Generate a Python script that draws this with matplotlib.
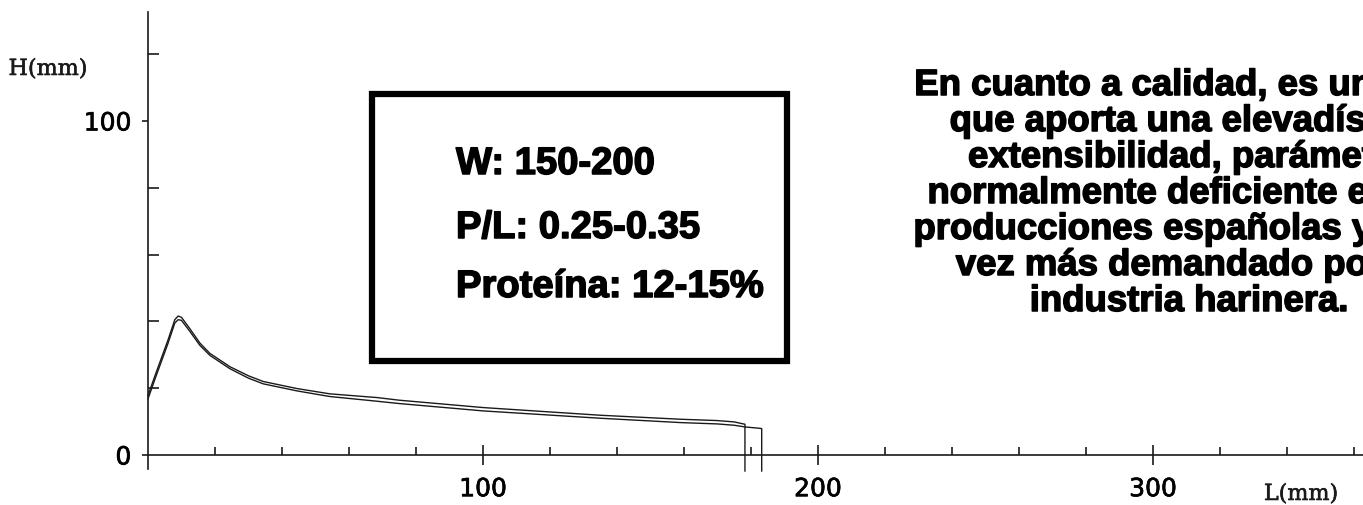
import matplotlib
matplotlib.use("Agg")
import matplotlib.pyplot as plt
import matplotlib.patheffects as pe
from matplotlib.patches import Rectangle
from matplotlib.ticker import FixedLocator

# two alveograph curves, L (mm) vs H (mm)
upper_x = [0, 2, 4, 6, 8, 9, 10, 12.5, 15.5, 18.5, 24.5, 30, 34.4, 44.4, 54.3,
           68.3, 75, 100, 135, 159, 170, 175, 178.2, 178.2]
upper_y = [17.8, 23.5, 29, 34.5, 40.5, 41.6, 41.2, 37.8, 33.5, 30.4, 26.4, 23.7,
           22.0, 19.9, 18.3, 17.2, 16.4, 14.2, 11.9, 10.7, 10.3, 9.9, 9.2, -4.8]

lower_x = [0, 2, 4, 6, 8, 9, 10, 12.5, 15.5, 18.5, 24.5, 30, 34.4, 44.4, 54.3,
           68.3, 75, 100, 135, 159, 170, 175, 178.2, 182.5, 183.2, 183.2]
lower_y = [16.8, 22.5, 28, 33.5, 39.5, 40.5, 40.3, 37.0, 32.8, 29.8, 25.8, 23.0,
           21.3, 19.2, 17.5, 16.1, 15.4, 13.2, 11.0, 9.7, 9.3, 8.9, 8.4, 8.0, 7.9, -4.8]

x_major = [100, 200, 300]
x_minor = [20, 40, 60, 80, 120, 140, 160, 180, 220, 240, 260, 280, 320, 340, 360]
y_major = [0, 100]
y_minor = [20, 40, 60, 80, 120]

box_lines = ["W: 150-200", "P/L: 0.25-0.35", "Proteína: 12-15%"]
note_lines = [
    "En cuanto a calidad, es un trigo",
    "que aporta una elevadísima",
    "extensibilidad, parámetro",
    "normalmente deficiente en las",
    "producciones españolas y cada",
    "vez más demandado por la",
    "industria harinera.",
]

W, H = 1363, 506
ink = "#1a1a1a"
heavy = [pe.withStroke(linewidth=1.1, foreground="black")]


def fx(px):
    return px / W


def fy(py):
    return 1 - py / H


fig = plt.figure(figsize=(W / 100, H / 100), dpi=100, facecolor="white")
ax = fig.add_axes([0, 0, 1, 1])
ax.set_facecolor("white")

ax.set_xlim(-44.18, 362.7)
ax.set_ylim(-14.97, 136.5)

ax.plot(upper_x, upper_y, color=ink, lw=1.0, clip_on=False)
ax.plot(lower_x, lower_y, color=ink, lw=1.0, clip_on=False)

for side in ("top", "right"):
    ax.spines[side].set_visible(False)
ax.spines["left"].set_position(("data", 0))
ax.spines["bottom"].set_position(("data", 0))
ax.spines["left"].set_bounds(-4.2, 132.6)
ax.spines["bottom"].set_bounds(0, 363)
for side in ("left", "bottom"):
    ax.spines[side].set_color(ink)
    ax.spines[side].set_linewidth(1.2)

ax.xaxis.set_major_locator(FixedLocator(x_major))
ax.xaxis.set_minor_locator(FixedLocator(x_minor))
ax.yaxis.set_major_locator(FixedLocator(y_major))
ax.yaxis.set_minor_locator(FixedLocator(y_minor))
ax.set_xticklabels([str(v) for v in x_major])
ax.set_yticklabels([str(v) for v in y_major])

ax.tick_params(axis="x", which="major", direction="inout", length=14, width=1.2,
               color=ink, pad=9, labelsize=18, labelcolor="black")
ax.tick_params(axis="x", which="minor", direction="in", length=6, width=1.2, color=ink)
ax.tick_params(axis="y", which="major", direction="out", length=4, width=1.2,
               color=ink, pad=8, labelsize=18, labelcolor="black")
ax.tick_params(axis="y", which="minor", direction="in", length=8, width=1.2, color=ink)
for lab in ax.get_xticklabels() + ax.get_yticklabels():
    lab.set_fontfamily("DejaVu Sans")
    lab.set_path_effects([pe.withStroke(linewidth=0.5, foreground="black")])

# axis names in a serif face, like the plotter printout
fig.text(fx(48), fy(76), "H(mm)", ha="center", va="baseline",
         family="DejaVu Serif", fontsize=16, color=ink,
         path_effects=[pe.withStroke(linewidth=0.4, foreground=ink)])
fig.text(fx(1301), fy(501), "L(mm)", ha="center", va="baseline",
         family="DejaVu Serif", fontsize=16, color=ink,
         path_effects=[pe.withStroke(linewidth=0.4, foreground=ink)])

# framed box with flour parameters
box = Rectangle((fx(372), fy(362)), fx(787) - fx(372), fy(94.5) - fy(362),
                transform=fig.transFigure, fill=False, edgecolor="black", lw=4.5)
fig.patches.append(box)
for line, base in zip(box_lines, [175, 239, 298]):
    fig.text(fx(456), fy(base), line, ha="left", va="baseline",
             family="Liberation Sans", fontweight="bold", fontsize=27.5,
             color="black", path_effects=heavy)

# descriptive note, centred and running off the right edge as in the scan
for i, line in enumerate(note_lines):
    fig.text(fx(1189), fy(96 + 36 * i), line, ha="center", va="baseline",
             family="Liberation Sans", fontweight="bold", fontsize=26.3,
             color="black", path_effects=heavy)

fig.savefig("out.png", dpi=100, facecolor="white")
